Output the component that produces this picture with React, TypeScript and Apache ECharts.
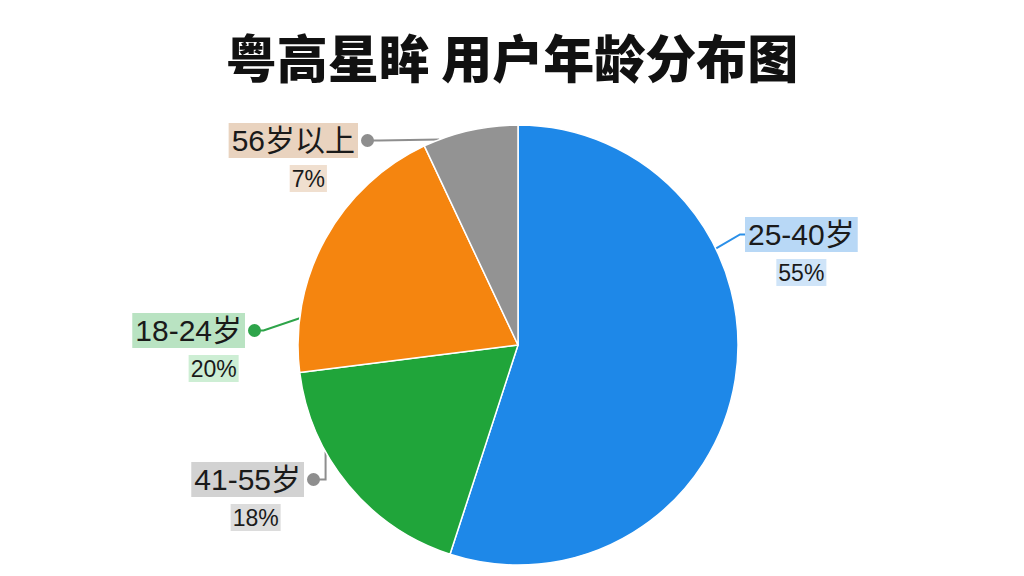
import React, { useEffect, useRef } from "react";
import * as echarts from "echarts";

const TITLE = "粤高星眸 用户年龄分布图";
// slices in clockwise order from 12 o'clock
const categories = ["25-40岁", "41-55岁", "18-24岁", "56岁以上"];
const values = [55, 18, 20, 7];
const sliceColors = ["#1e88e8", "#20a53a", "#f5850f", "#939393"];
const nameBg = ["#b8d8f6", "#d2d2d2", "#b9e3c2", "#e9d3bf"];
const pctBg = ["#cfe4f8", "#dcdcdc", "#cdeed4", "#f0dfcf"];
const lineColors = ["#2a8fe8", "#8e8e8e", "#2ea44a", "#8e8e8e"];

const CX = 518;
const CY = 345;
const R = 220;

// label placement (layout only): side, edge x, top y, anchor angle on the rim, elbow type
const labelLayouts = [
  { side: "right", x: 745, top: 217, angle: 64, mid: "near", off: -5, pad: 0 },
  { side: "left", x: 320, top: 462, angle: 241, mid: "vertical", off: 0, pad: 0 },
  { side: "left", x: 261, top: 313, angle: 277, mid: "near", off: 9, pad: 34 },
  { side: "left", x: 374, top: 123, angle: 339, mid: "near", off: 12, pad: 14 },
];

const NAME_H = 35;
const PCT_H = 27;
const GAP = 7;
const DOT = 13;
const FONT = "'Liberation Sans', Arial, 'Noto Sans CJK SC', sans-serif";

export default function App() {
  const ref = useRef<HTMLDivElement>(null);
  useEffect(() => {
    if (!ref.current) return;
    const chart = echarts.init(ref.current, null, { renderer: "svg" });
    const data = categories.map((name, i) => {
      const left = labelLayouts[i].side === "left";
      const pad = labelLayouts[i].pad;
      return {
        name,
        value: values[i],
        itemStyle: { color: sliceColors[i] },
        labelLine: { lineStyle: { color: lineColors[i], width: 2 } },
        label: {
          formatter: left
            ? `{n|${name}}{g|}{d|}\n{s|}{p|${values[i]}%}`
            : `{n|${name}}\n{p|${values[i]}%}`,
          rich: {
            n: {
              fontSize: 30,
              color: "#1a1a1a",
              fontFamily: FONT,
              backgroundColor: nameBg[i],
              height: NAME_H,
              lineHeight: NAME_H,
              padding: [0, 3],
              align: "left",
            },
            g: { width: 3, height: 2, align: "left" },
            s: { width: pad, height: 2, align: "left" },
            d: {
              width: DOT,
              height: DOT,
              borderRadius: DOT / 2,
              backgroundColor: lineColors[i],
              align: "left",
            },
            p: {
              fontSize: 23,
              color: "#1a1a1a",
              fontFamily: FONT,
              backgroundColor: pctBg[i],
              height: PCT_H,
              lineHeight: PCT_H + GAP,
              verticalAlign: "bottom",
              padding: [0, 2],
              align: "center",
            },
          },
        },
      };
    });

    chart.setOption({
      animation: false,
      backgroundColor: "#ffffff",
      title: {
        text: TITLE,
        left: "center",
        top: 25,
        textStyle: {
          fontSize: 51,
          fontWeight: 900,
          color: "#111111",
          fontFamily: "'Noto Sans CJK SC', sans-serif",
        },
      },
      series: [
        {
          type: "pie",
          center: [CX, CY],
          radius: R,
          startAngle: 90,
          clockwise: true,
          avoidLabelOverlap: false,
          itemStyle: { borderColor: "#ffffff", borderWidth: 1.5 },
          label: { show: true, position: "outside" },
          labelLine: { show: true, length: 15, length2: 10 },
          emphasis: { disabled: true },
          data,
          labelLayout: (params: any) => {
            const L = labelLayouts[params.dataIndex];
            const a = (L.angle * Math.PI) / 180;
            const sx = CX + R * Math.sin(a);
            const sy = CY - R * Math.cos(a);
            const ey = L.top + NAME_H / 2;
            const ex = L.side === "left" ? L.x - DOT / 2 : L.x;
            const mx = L.mid === "vertical" ? sx : ex + L.off;
            return {
              x: L.x,
              y: L.top,
              align: L.side === "left" ? "right" : "left",
              verticalAlign: "top",
              labelLinePoints: [
                [sx, sy],
                [mx, ey],
                [ex, ey],
              ],
            };
          },
        },
      ],
    });
    return () => chart.dispose();
  }, []);
  return (
    <div
      ref={ref}
      style={{ position: "fixed", left: 0, top: 0, width: 1024, height: 576 }}
    />
  );
}
